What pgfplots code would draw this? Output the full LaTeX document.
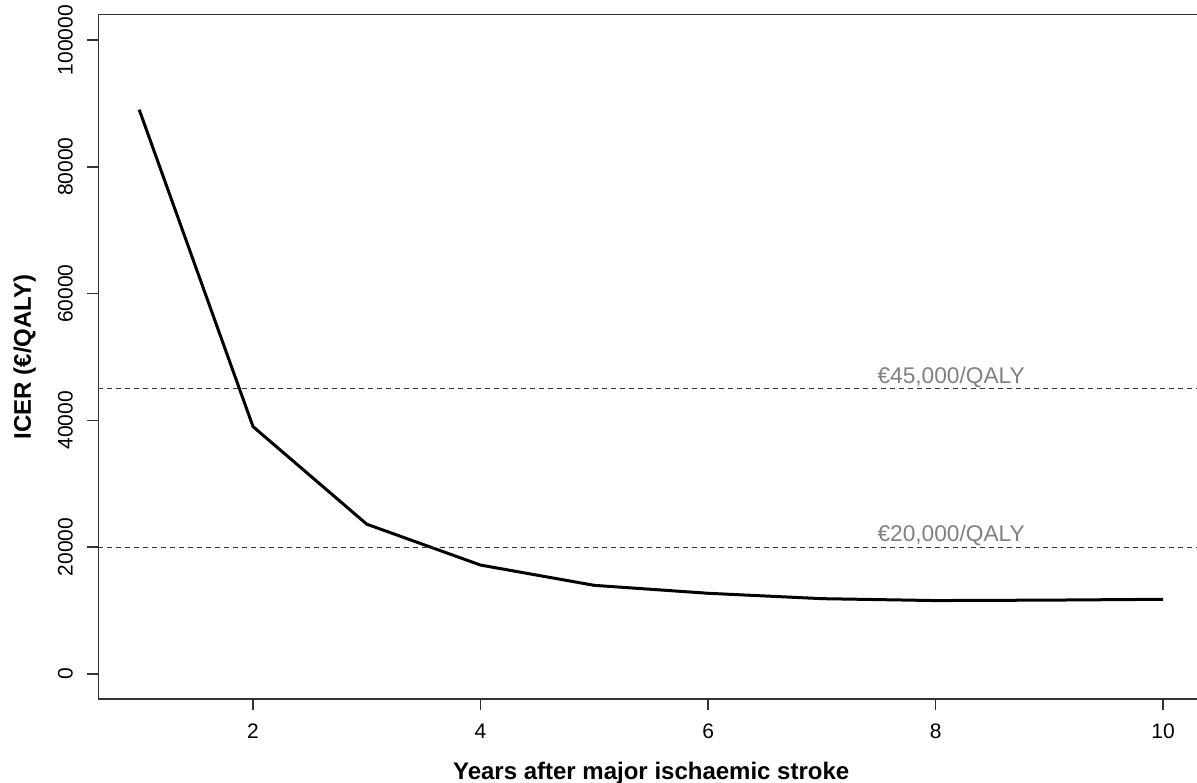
\documentclass[border=0pt]{standalone}
\usepackage{fontspec}
\setmainfont{Liberation Sans}
\usepackage{pgfplots}
\pgfplotsset{compat=1.18}
\begin{document}
\begin{tikzpicture}
\begin{axis}[
  scale only axis, width=552.9pt, height=342.2pt,
  xmin=0.64, xmax=10.36, ymin=-4000, ymax=104000,
  axis x line*=box, axis y line*=left,
  xtick={2,4,6,8,10}, ytick={0,20000,40000,60000,80000,100000},
  scaled y ticks=false,
  /pgf/number format/fixed,
  /pgf/number format/1000 sep={},
  /pgf/number format/assume math mode=true,
  tick align=outside, major tick length=5.5pt,
  xtick pos=lower, ytick pos=left,
  tick style={black!80, line width=0.75pt},
  axis line style={black!80, line width=0.75pt, -},
  ticklabel style={font=\fontsize{10.5}{12}\selectfont},
  xticklabel style={anchor=north, inner sep=0pt, yshift=-6.75pt},
  yticklabel style={rotate=90, anchor=south, inner sep=0pt, yshift=7pt},
  xlabel={\bfseries Years after major ischaemic stroke},
  ylabel={\bfseries ICER (€/QALY)},
  label style={font=\fontsize{12}{14}\selectfont},
  xlabel style={at={(axis description cs:0.5,-0.118)}, anchor=base},
  ylabel style={at={(axis description cs:-0.0665,0.5)}, anchor=center},
]
\addplot[black, line width=1.5pt] coordinates {
  (1,89000) (2,39000) (3,23600) (4,17150) (5,13950)
  (6,12700) (7,11850) (8,11550) (9,11620) (10,11750)};
\addplot[black!80, line width=0.5pt, dash pattern=on 2.5pt off 2pt] coordinates {(0.64,45000) (10.36,45000)};
\addplot[black!80, line width=0.5pt, dash pattern=on 2.5pt off 2pt] coordinates {(0.64,20000) (10.36,20000)};
\node[anchor=base west, inner sep=0pt, text=black!50, font=\fontsize{11.35}{13}\selectfont] at (axis cs:7.486,45825) {€45,000/QALY};
\node[anchor=base west, inner sep=0pt, text=black!50, font=\fontsize{11.35}{13}\selectfont] at (axis cs:7.486,20830) {€20,000/QALY};
\coordinate (sw) at (rel axis cs:0,0);
\coordinate (nw) at (rel axis cs:0,1);
\end{axis}
\pgfresetboundingbox
\path[use as bounding box] ([xshift=-49.15pt, yshift=-41.5pt]sw) rectangle ([xshift=549.35pt, yshift=7.35pt]nw);
\end{tikzpicture}
\end{document}
